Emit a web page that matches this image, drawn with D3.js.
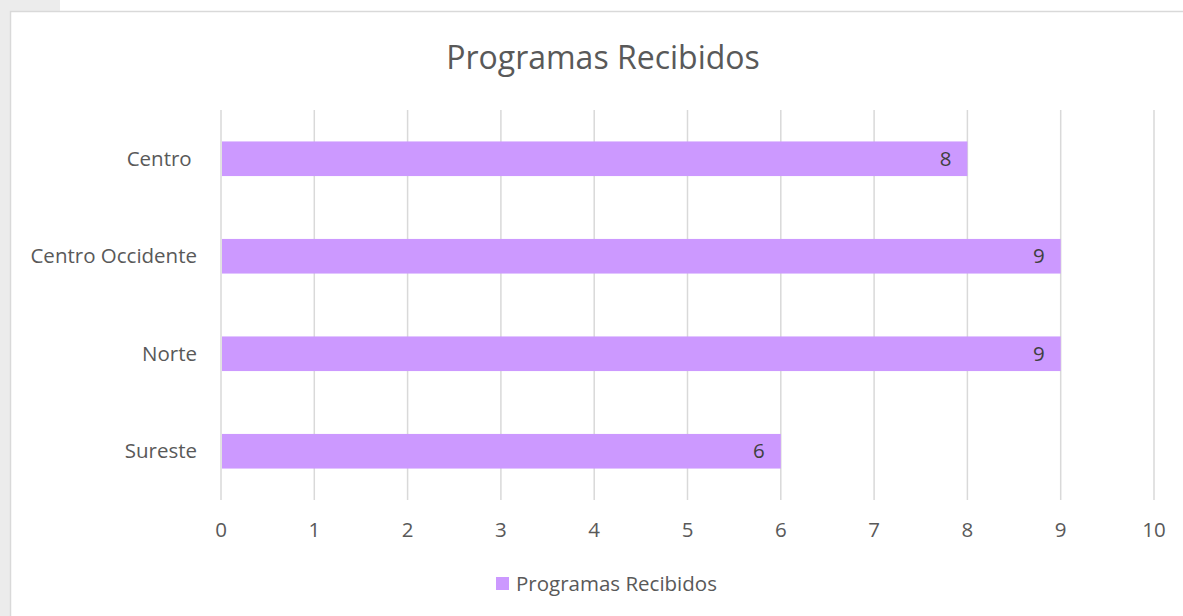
<!DOCTYPE html>
<html>
<head>
<meta charset="utf-8">
<script src="https://cdn.jsdelivr.net/npm/d3@7"></script>
<style>
  body { margin: 0; background: #fff; }
  text { font-family: "Open Sans", sans-serif; }
</style>
</head>
<body>
<div id="chart_area"></div>
<script>
var categories = ["Centro ", "Centro Occidente", "Norte", "Sureste"];
var values = [8, 9, 9, 6];
var xTicks = [0, 1, 2, 3, 4, 5, 6, 7, 8, 9, 10];
var seriesName = "Programas Recibidos";

var width = 1183, height = 616;
var barColor = "#cc99ff";
var labelSize = 20.5;

var svg = d3.select("#chart_area")
    .append("svg")
    .attr("width", width)
    .attr("height", height);

// faint page background behind the chart frame
svg.append("rect").attr("x", 0).attr("y", 0).attr("width", 10).attr("height", height).attr("fill", "#ececec");
svg.append("rect").attr("x", 0).attr("y", 0).attr("width", 60).attr("height", 11).attr("fill", "#ececec");

// chart frame
svg.append("rect")
    .attr("x", 10.5).attr("y", 11.5)
    .attr("width", width + 10).attr("height", height + 10)
    .attr("fill", "#fff")
    .attr("stroke", "#d9d9d9")
    .attr("stroke-width", 1.5);

var x = d3.scaleLinear()
    .domain([0, 10])
    .range([221, 1154]);

var y = d3.scaleBand()
    .domain(categories)
    .range([110, 500])
    .paddingInner(0.645)
    .paddingOuter(0.3225);

// gridlines
svg.append("g")
    .selectAll("line")
    .data(xTicks)
    .enter()
    .append("line")
    .attr("x1", function (d) { return x(d); })
    .attr("x2", function (d) { return x(d); })
    .attr("y1", 110)
    .attr("y2", 500)
    .attr("stroke", "#d9d9d9")
    .attr("stroke-width", 1.5);

// x tick labels
svg.append("g")
    .selectAll("text")
    .data(xTicks)
    .enter()
    .append("text")
    .attr("x", function (d) { return x(d); })
    .attr("y", 530)
    .attr("dy", "0.35em")
    .attr("text-anchor", "middle")
    .attr("font-size", labelSize)
    .attr("fill", "#595959")
    .text(function (d) { return d; });

// category labels
svg.append("g")
    .selectAll("text")
    .data(categories)
    .enter()
    .append("text")
    .attr("x", 197)
    .attr("y", function (d) { return y(d) + y.bandwidth() / 2; })
    .attr("dy", "0.35em")
    .attr("text-anchor", "end")
    .style("white-space", "pre")
    .attr("font-size", labelSize)
    .attr("fill", "#595959")
    .text(function (d) { return d; });

// bars
svg.append("g")
    .selectAll("rect")
    .data(values)
    .enter()
    .append("rect")
    .attr("x", x(0) + 1)
    .attr("y", function (d, i) { return y(categories[i]); })
    .attr("width", function (d) { return x(d) - x(0) - 1; })
    .attr("height", y.bandwidth())
    .attr("fill", barColor);

// data labels
svg.append("g")
    .selectAll("text")
    .data(values)
    .enter()
    .append("text")
    .attr("x", function (d) { return x(d) - 16; })
    .attr("y", function (d, i) { return y(categories[i]) + y.bandwidth() / 2; })
    .attr("dy", "0.35em")
    .attr("text-anchor", "end")
    .attr("font-size", labelSize)
    .attr("fill", "#404040")
    .text(function (d) { return d; });

// title
svg.append("text")
    .attr("x", 603)
    .attr("y", 58)
    .attr("dy", "0.35em")
    .attr("text-anchor", "middle")
    .attr("font-size", 32)
    .attr("fill", "#595959")
    .text(seriesName);

// legend
var legend = svg.append("g");
legend.append("rect")
    .attr("x", 496).attr("y", 577)
    .attr("width", 13).attr("height", 13)
    .attr("fill", barColor);
legend.append("text")
    .attr("x", 516)
    .attr("y", 584)
    .attr("dy", "0.35em")
    .attr("font-size", labelSize)
    .attr("fill", "#595959")
    .text(seriesName);
</script>
</body>
</html>
